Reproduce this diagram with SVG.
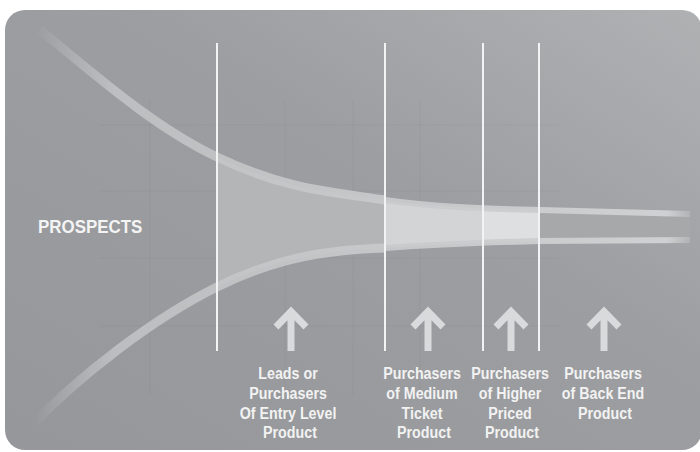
<svg xmlns="http://www.w3.org/2000/svg" width="700" height="452" viewBox="0 0 700 452">
  <defs>
    <linearGradient id="bg" x1="0" y1="1" x2="1" y2="0">
      <stop offset="0" stop-color="#95979a"/>
      <stop offset="0.6" stop-color="#9c9ea1"/>
      <stop offset="1" stop-color="#afb1b3"/>
    </linearGradient>
    <linearGradient id="bandTop" gradientUnits="userSpaceOnUse" x1="35" y1="0" x2="700" y2="0">
      <stop offset="0" stop-color="#c8cacc" stop-opacity="0"/>
      <stop offset="0.12" stop-color="#c2c4c6" stop-opacity="0.85"/>
      <stop offset="0.95" stop-color="#cfd0d1" stop-opacity="1"/>
      <stop offset="1" stop-color="#cfd0d1" stop-opacity="0"/>
    </linearGradient>
    <clipPath id="funnel">
      <path d="M40,30 C90,70 150,125 217,157 C284,189 330,192 385,200 C440,208 500,209 540,210 L690,214 L690,240 L540,241 C500,242 440,244 385,248 C330,250 280,256 217,287 C154,318 80,375 30,427 Z"/>
    </clipPath>
    <style>
      .vline { stroke: #f3f3f3; stroke-width: 2; fill: none; }
      .grid { stroke: #000; stroke-opacity: 0.025; stroke-width: 1.5; fill: none; }
      .arrow { stroke: #d9dadb; stroke-width: 7; fill: none; stroke-linejoin: miter; stroke-linecap: butt; }
      .band { fill: none; stroke: url(#bandTop); stroke-linecap: butt; }
      .lbl { font-family: "Liberation Sans", Arial, sans-serif; font-weight: bold; font-size: 17px; fill: #f2f2f2; text-anchor: middle; }
      .title { font-family: "Liberation Sans", Arial, sans-serif; font-weight: bold; font-size: 18px; fill: #f4f4f4; }
    </style>
  </defs>

  <rect width="700" height="452" fill="#ffffff"/>
  <rect id="background" x="5" y="10" width="697" height="440" rx="20" ry="20" fill="url(#bg)"/>
  <polygon points="691,452 700,452 700,443" fill="#ffffff"/>

  <g id="grid">
    <line class="grid" x1="150" y1="100" x2="150" y2="395"/>
    <line class="grid" x1="285" y1="100" x2="285" y2="395"/>
    <line class="grid" x1="353" y1="100" x2="353" y2="395"/>
    <line class="grid" x1="420" y1="100" x2="420" y2="395"/>
    <line class="grid" x1="100" y1="125" x2="560" y2="125"/>
    <line class="grid" x1="100" y1="191" x2="560" y2="191"/>
    <line class="grid" x1="100" y1="258" x2="560" y2="258"/>
    <line class="grid" x1="100" y1="326" x2="560" y2="326"/>
  </g>

  <g id="funnel-fill" clip-path="url(#funnel)">
    <rect x="217" y="100" width="168" height="250" fill="#b3b5b7"/>
    <rect x="385" y="100" width="98" height="250" fill="#d3d4d5"/>
    <rect x="483" y="100" width="56" height="250" fill="#dedfe0"/>
    <rect x="539" y="100" width="151" height="250" fill="#a6a8aa"/>
  </g>

  <g id="funnel-bands">
    <path class="band" stroke-width="9" d="M40,30 C90,70 150,125 217,157 C284,189 330,192 385,200"/>
    <path class="band" stroke-width="6" d="M385,200 C440,208 500,209 540,210 L690,214"/>
    <path class="band" stroke-width="9" d="M30,427 C80,375 154,318 217,287 C280,256 330,250 385,248"/>
    <path class="band" stroke-width="6" d="M385,248 C440,244 500,242 540,241 L690,240"/>
  </g>

  <g id="connectors">
    <line class="vline" x1="217" y1="43" x2="217" y2="351"/>
    <line class="vline" x1="385" y1="43" x2="385" y2="351"/>
    <line class="vline" x1="483" y1="43" x2="483" y2="351"/>
    <line class="vline" x1="539" y1="43" x2="539" y2="351"/>
    <path class="arrow" d="M276,327 L291,311.5 L306,327 M291,311.5 V351"/>
    <path class="arrow" d="M413,327 L428,311.5 L443,327 M428,311.5 V351"/>
    <path class="arrow" d="M496,327 L511,311.5 L526,327 M511,311.5 V351"/>
    <path class="arrow" d="M589,327 L604,311.5 L619,327 M604,311.5 V351"/>
  </g>

  <g id="prospects">
    <text class="title" transform="translate(38,233) scale(0.94,1)" x="0" y="0">PROSPECTS</text>
  </g>

  <g id="entry-level">
    <text class="lbl" transform="translate(290,0) scale(0.84,1)">
      <tspan x="0" y="379">Leads or</tspan>
      <tspan x="0" y="399">Purchasers</tspan>
      <tspan x="0" y="419">Of Entry Level</tspan>
      <tspan x="0" y="438">Product</tspan>
    </text>
  </g>

  <g id="medium-ticket">
    <text class="lbl" transform="translate(424,0) scale(0.84,1)">
      <tspan x="0" y="379">Purchasers</tspan>
      <tspan x="0" y="399">of Medium</tspan>
      <tspan x="0" y="419">Ticket</tspan>
      <tspan x="0" y="438">Product</tspan>
    </text>
  </g>

  <g id="higher-priced">
    <text class="lbl" transform="translate(512,0) scale(0.84,1)">
      <tspan x="0" y="379">Purchasers</tspan>
      <tspan x="0" y="399">of Higher</tspan>
      <tspan x="0" y="419">Priced</tspan>
      <tspan x="0" y="438">Product</tspan>
    </text>
  </g>

  <g id="back-end">
    <text class="lbl" transform="translate(605,0) scale(0.84,1)">
      <tspan x="0" y="379">Purchasers</tspan>
      <tspan x="0" y="399">of Back End</tspan>
      <tspan x="0" y="419">Product</tspan>
    </text>
  </g>
</svg>
